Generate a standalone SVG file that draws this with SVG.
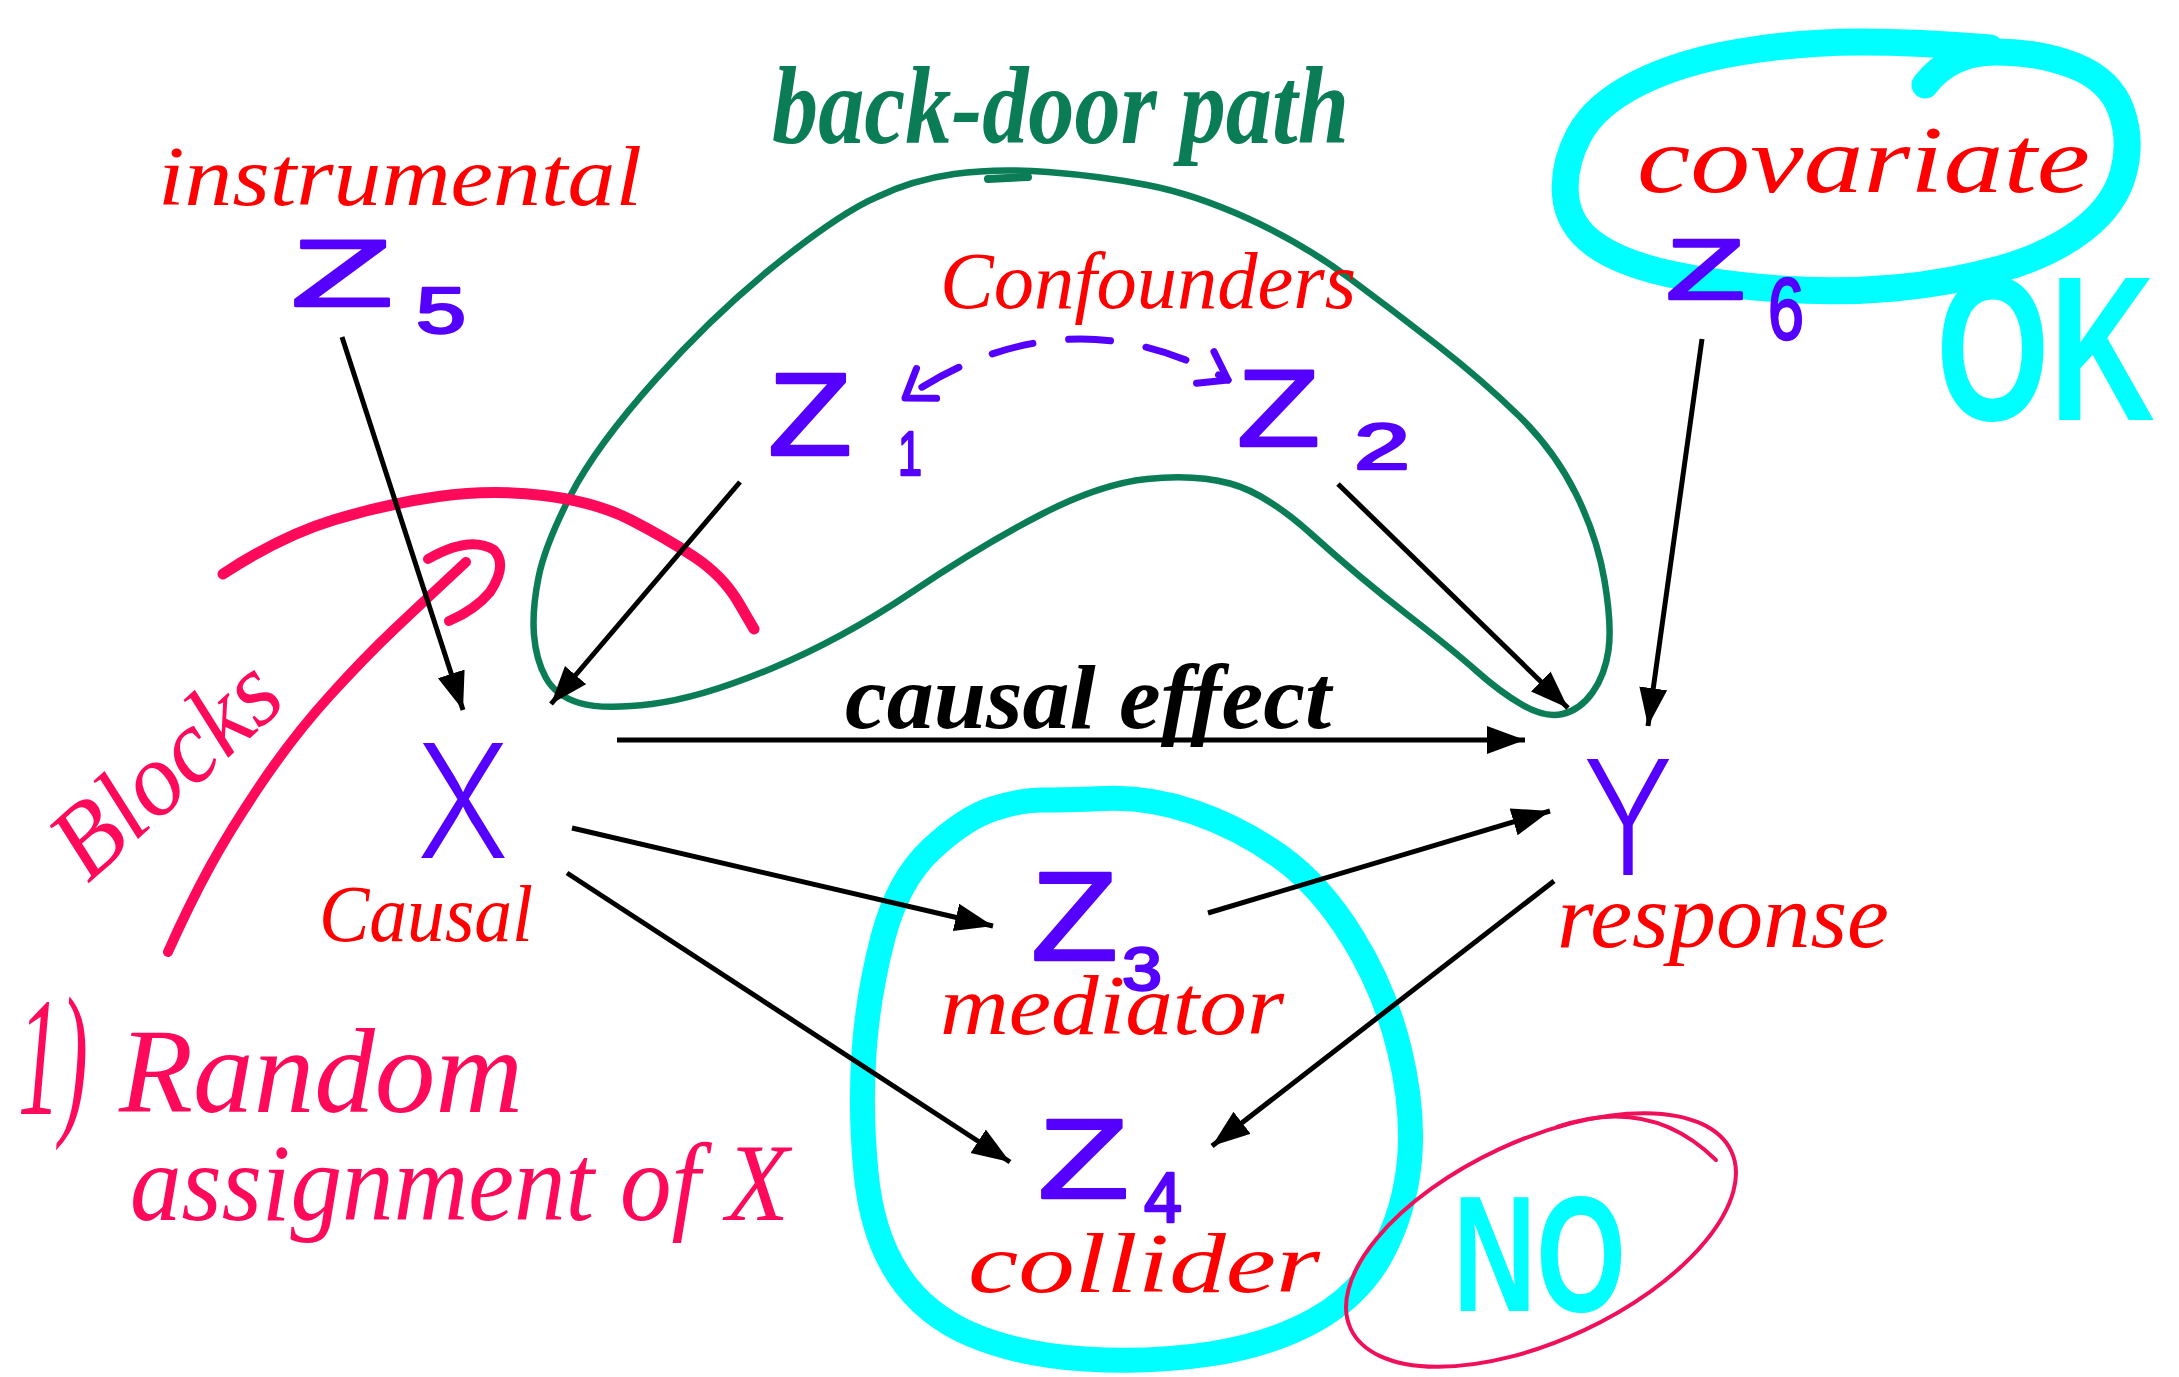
<svg xmlns="http://www.w3.org/2000/svg" width="2179" height="1377" viewBox="0 0 2179 1377">
<style>
.arrow{stroke:#000;stroke-width:5;fill:none;marker-end:url(#ah)}
.var{fill:#5500ff;stroke:#5500ff;stroke-width:2.5;stroke-linejoin:round;font-family:"Liberation Sans",Arial,sans-serif}
.big{fill:#5500ff;font-family:Inter,"Liberation Sans",sans-serif;font-weight:300}
.lbl{fill:#ff0000;font-family:"Liberation Serif","Times New Roman",serif;font-style:italic}
.pinktxt{fill:#ff0a5a;font-family:"Liberation Serif","Times New Roman",serif;font-style:italic}
.pinkstroke{fill:none;stroke:#ff0a5a;stroke-linecap:round;stroke-linejoin:round}
.cyan{fill:none;stroke:#00ffff;stroke-linecap:round;stroke-linejoin:round}
.cyantxt{fill:#00ffff;font-family:"Liberation Sans",Arial,sans-serif;font-weight:bold}
</style>
<defs>
<marker id="ah" markerUnits="userSpaceOnUse" markerWidth="40" markerHeight="30" refX="38" refY="14" orient="auto">
<path d="M0,0 L38,14 L0,28 z" fill="#000"/>
</marker>
<marker id="vh" markerUnits="userSpaceOnUse" markerWidth="44" markerHeight="44" refX="32" refY="22" orient="auto-start-reverse">
<path d="M6,4 L32,22 L6,40" fill="none" stroke="#5500ff" stroke-width="7" stroke-linecap="round" stroke-linejoin="round"/>
</marker>
</defs>
<rect width="2179" height="1377" fill="#fff"/>

<!-- highlights / annotations -->
<g id="backdoor-loop">
<path d="M954,174 Q996,168 1048,172 Q1100,176 1147,185 Q1194,194 1248,218.5 Q1302,243 1348.5,277.5 Q1395,312 1438.5,346 Q1482,380 1518,415 Q1554,450 1575.5,493 Q1597,536 1604.5,580.5 Q1612,625 1608.5,650 Q1605,675 1592.5,692.5 Q1580,710 1562.5,714 Q1545,718 1522.5,705 Q1500,692 1476.5,671 Q1453,650 1406.5,614 Q1360,578 1313,535.5 Q1266,493 1230,483.5 Q1194,474 1147,479 Q1100,484 1041,514.5 Q982,545 912,592 Q842,639 771.5,668.5 Q701,698 652,704 Q603,710 579.5,703 Q556,696 546,678 Q536,660 534,635 Q532,610 538.5,577.5 Q545,545 570.5,495.5 Q596,446 656,379 Q716,312 779,262 Q842,212 877,197 Q912,180 954,174 Z" fill="none" stroke="#0a7d57" stroke-width="6.5"/>
<path d="M988,179 L1028,177" stroke="#0a7d57" stroke-width="8" stroke-linecap="round"/>
<text x="772" y="143" font-family="'Liberation Serif',serif" font-style="italic" font-weight="bold" font-size="110" fill="#0a7d57" textLength="577" lengthAdjust="spacingAndGlyphs">back-door path</text>
</g>

<g id="covariate-highlight">
<path class="cyan" stroke-width="27" d="M1925,85 Q1950,52 1995,52 Q2040,52 2075,66 Q2110,80 2121,110 Q2132,140 2123.5,172.5 Q2115,205 2082.5,230 Q2050,255 2000,269 Q1950,283 1895,288 Q1840,293 1780,289 Q1720,285 1670,274 Q1620,263 1594,244 Q1568,225 1565.5,195 Q1563,165 1579,135 Q1595,105 1637.5,83.5 Q1680,62 1740,52 Q1800,42 1860,42 Q1920,42 1990,48"/>
<text class="cyantxt" transform="translate(1936,420) scale(1,1.41)" x="0" y="0" font-size="146" textLength="219" lengthAdjust="spacingAndGlyphs">OK</text>
</g>

<g id="mediator-collider-highlight">
<path class="cyan" stroke-width="25" d="M1041.5,800 Q1063,800 1106.5,798.5 Q1150,797 1195,812.5 Q1240,828 1280,856.5 Q1320,885 1352.5,937.5 Q1385,990 1399.5,1050 Q1414,1110 1409.5,1160 Q1405,1210 1382.5,1252.5 Q1360,1295 1315,1320 Q1270,1345 1210,1354 Q1150,1363 1085,1359 Q1020,1355 972.5,1335 Q925,1315 898.5,1275 Q872,1235 866,1172.5 Q860,1110 864,1052.5 Q868,995 883,937.5 Q898,880 931.5,849 Q965,818 992.5,809 Q1020,800 1041.5,800 Z"/>
<text class="cyantxt" transform="translate(1453,1311) scale(1,1.43)" x="0" y="0" font-size="115" textLength="173" lengthAdjust="spacingAndGlyphs">NO</text>
<ellipse cx="1541" cy="1240" rx="210" ry="100" transform="rotate(-25 1541 1240)" fill="none" stroke="#f0105a" stroke-width="4"/>
<path d="M1557,1127 Q1650,1095 1716,1160" fill="none" stroke="#f0105a" stroke-width="4" stroke-linecap="round"/>
</g>

<g id="randomization-note">
<path class="pinkstroke" stroke-width="11" d="M223,574 Q281,536 333.5,520 Q386,504 438.5,496.5 Q491,489 543.5,495.5 Q596,502 631,520 Q666,538 694.5,557 Q723,576 738.5,602.5 L754,629"/>
<path class="pinkstroke" stroke-width="10" d="M168,952 Q189,905 210,866.5 Q231,828 263,781 Q295,734 330,695.5 Q365,657 393,630.5 Q421,604 466,562"/>
<path class="pinkstroke" stroke-width="10" d="M428,559 Q470,535 494,550 Q508,565 490,592 Q475,610 449,621"/>
<text class="pinktxt" transform="translate(88,884) rotate(-42)" x="0" y="0" font-size="105" textLength="270" lengthAdjust="spacingAndGlyphs">Blocks</text>
<text class="pinktxt" x="18" y="1114" font-size="170" textLength="70" lengthAdjust="spacingAndGlyphs">1)</text>
<text class="pinktxt" x="119" y="1112" font-size="120" textLength="404" lengthAdjust="spacingAndGlyphs">Random</text>
<text class="pinktxt" x="130" y="1220" font-size="110" textLength="659" lengthAdjust="spacingAndGlyphs">assignment of X</text>
</g>

<!-- connectors -->
<g id="connectors">
<line class="arrow" x1="342" y1="337" x2="463" y2="710"/>
<line class="arrow" x1="740" y1="482" x2="551" y2="704"/>
<line class="arrow" x1="617" y1="740" x2="1525" y2="740"/>
<line class="arrow" x1="1338" y1="484" x2="1568" y2="708"/>
<line class="arrow" x1="1702" y1="339" x2="1648" y2="726"/>
<line class="arrow" x1="572" y1="828" x2="993" y2="926"/>
<line class="arrow" x1="1208" y1="913" x2="1550" y2="811"/>
<line class="arrow" x1="567" y1="873" x2="1010" y2="1162"/>
<line class="arrow" x1="1554" y1="881" x2="1212" y2="1146"/>
<path d="M905,398 Q1065,290 1228,380" fill="none" stroke="#5500ff" stroke-width="7" stroke-dasharray="42 36" stroke-dashoffset="-20" stroke-linecap="round" marker-start="url(#vh)" marker-end="url(#vh)"/>
<text x="845" y="728" font-family="'Liberation Serif',serif" font-style="italic" font-weight="bold" font-size="90" fill="#000" textLength="486" lengthAdjust="spacingAndGlyphs">causal effect</text>
</g>

<!-- nodes -->
<g id="node-z5">
<text class="lbl" x="158" y="205" font-size="85" textLength="484" lengthAdjust="spacingAndGlyphs">instrumental</text>
<text class="var" x="291" y="306" font-size="95" textLength="102" lengthAdjust="spacingAndGlyphs">Z</text>
<text class="var" x="416" y="333" font-size="65" textLength="50" lengthAdjust="spacingAndGlyphs">5</text>
</g>
<g id="node-z1">
<text class="lbl" x="940" y="308" font-size="80" textLength="416" lengthAdjust="spacingAndGlyphs">Confounders</text>
<text class="var" x="768" y="455" font-size="117" textLength="84" lengthAdjust="spacingAndGlyphs">Z</text>
<text class="var" x="898" y="475" font-size="63" textLength="24" lengthAdjust="spacingAndGlyphs">1</text>
</g>
<g id="node-z2">
<text class="var" x="1237" y="446" font-size="110" textLength="83" lengthAdjust="spacingAndGlyphs">Z</text>
<text class="var" x="1354" y="469" font-size="65" textLength="56" lengthAdjust="spacingAndGlyphs">2</text>
</g>
<g id="node-z6">
<text class="lbl" x="1637" y="192" font-size="95" textLength="453" lengthAdjust="spacingAndGlyphs">covariate</text>
<text class="var" x="1666" y="299" font-size="85" textLength="79" lengthAdjust="spacingAndGlyphs">Z</text>
<text class="var" x="1768" y="339" font-size="88" textLength="36" lengthAdjust="spacingAndGlyphs">6</text>
</g>
<g id="node-x">
<text class="big" x="417" y="858" font-size="158" textLength="92" lengthAdjust="spacingAndGlyphs">X</text>
<text class="lbl" x="319" y="941" font-size="80" textLength="214" lengthAdjust="spacingAndGlyphs">Causal</text>
</g>
<g id="node-y">
<text class="big" x="1583" y="875" font-size="160" textLength="90" lengthAdjust="spacingAndGlyphs">Y</text>
<text class="lbl" x="1557" y="947" font-size="90" textLength="332" lengthAdjust="spacingAndGlyphs">response</text>
</g>
<g id="node-z3">
<text class="var" x="1031" y="960" font-size="127" textLength="87" lengthAdjust="spacingAndGlyphs">Z</text>
<text class="var" x="1122" y="990" font-size="62" textLength="40" lengthAdjust="spacingAndGlyphs">3</text>
<text class="lbl" x="940" y="1034" font-size="85" textLength="344" lengthAdjust="spacingAndGlyphs">mediator</text>
</g>
<g id="node-z4">
<text class="var" x="1038" y="1198" font-size="113" textLength="91" lengthAdjust="spacingAndGlyphs">Z</text>
<text class="var" x="1144" y="1222" font-size="70" textLength="38" lengthAdjust="spacingAndGlyphs">4</text>
<text class="lbl" x="968" y="1292" font-size="85" textLength="352" lengthAdjust="spacingAndGlyphs">collider</text>
</g>
</svg>
